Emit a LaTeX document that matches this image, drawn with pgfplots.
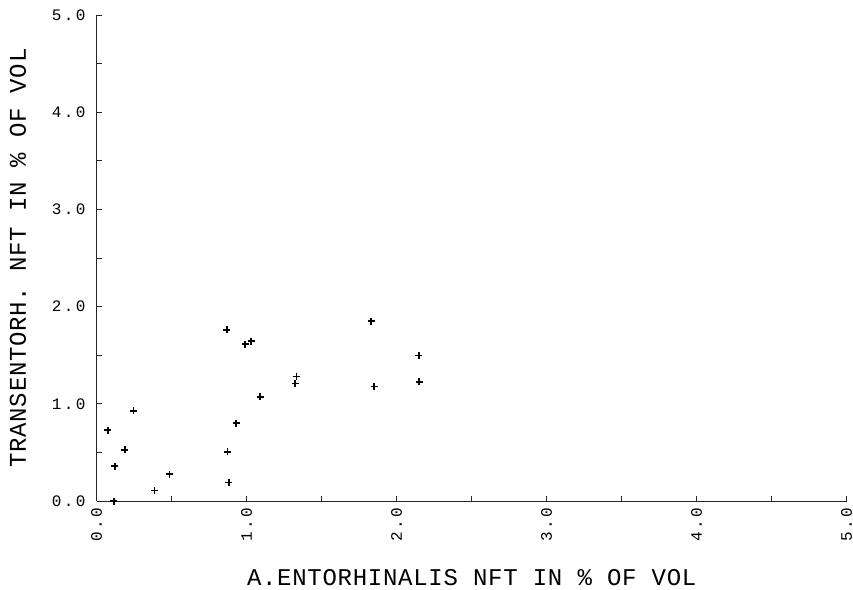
\documentclass[border=0pt]{standalone}
\usepackage{fontspec}
\setmainfont{Liberation Mono}
\newfontfamily\tickfont{Liberation Mono}[LetterSpace=15]
\newfontfamily\labelfont{Liberation Mono}[LetterSpace=3]
\usepackage{pgfplots}
\pgfplotsset{compat=1.18}
\begin{document}
\begin{tikzpicture}
\begin{axis}[
  at={(0,0)}, anchor=south west,
  scale only axis, width=750pt, height=486pt,
  xmin=0, xmax=5, ymin=0, ymax=5,
  axis lines=left,
  axis line style={-, black!85, line width=0.9pt},
  xtick={0,1,2,3,4,5}, ytick={0,1,2,3,4,5},
  minor tick num=1,
  tick align=inside,
  major tick length=5pt, minor tick length=5pt,
  tick style={black!85, line width=0.9pt},
  /pgf/number format/.cd, fixed, fixed zerofill, precision=1, assume math mode=true,
  /pgfplots/.cd,
  xticklabel style={font=\tickfont\fontsize{16}{17}\selectfont, rotate=90, anchor=east, inner sep=7pt},
  yticklabel style={font=\tickfont\fontsize{16}{17}\selectfont, anchor=east, inner sep=0pt, xshift=-11pt},
  xlabel={A.ENTORHINALIS NFT IN \% OF VOL},
  ylabel={TRANSENTORH. NFT IN \% OF VOL},
  every axis x label/.style={at={(axis description cs:0.5,-0.1584)}, anchor=center, font=\labelfont\fontsize{24}{26}\selectfont},
  every axis y label/.style={at={(axis description cs:-0.1049,0.5)}, anchor=center, rotate=90, font=\labelfont\fontsize{24}{26}\selectfont},
  clip=false,
]
\addplot[only marks, mark=+, mark size=3.5pt, black, mark options={line width=1.6pt}] coordinates {
(0.075,0.73)
(0.122,0.36)
(0.115,0.00)
(0.187,0.525)
(0.244,0.926)
(0.384,0.110)
(0.485,0.275)
(0.867,1.76)
(0.989,1.615)
(1.029,1.646)
(1.090,1.07)
(0.929,0.80)
(0.873,0.507)
(0.880,0.19)
(1.322,1.21)
(1.331,1.28)
(1.829,1.85)
(1.849,1.18)
(2.147,1.495)
(2.149,1.227)
};
\end{axis}
\pgfresetboundingbox
\useasboundingbox (-96.7pt,-88pt) rectangle (756.3pt,501pt);
\end{tikzpicture}
\end{document}
